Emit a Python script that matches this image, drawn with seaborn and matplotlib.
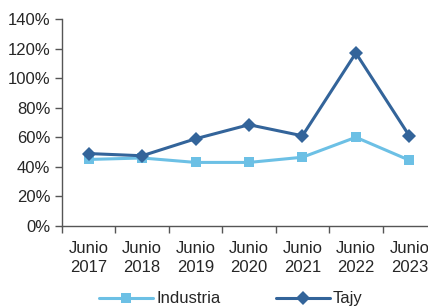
import matplotlib
matplotlib.use("Agg")
import matplotlib.pyplot as plt
import numpy as np
import pandas as pd
import seaborn as sns

years = ["Junio\n2017", "Junio\n2018", "Junio\n2019", "Junio\n2020",
         "Junio\n2021", "Junio\n2022", "Junio\n2023"]
industria = [45, 46, 43, 43, 46.5, 60, 44.5]
tajy = [49, 47.5, 59, 68.5, 61, 117, 61]

sns.set_style("white")
plt.rcParams["font.family"] = ["Liberation Sans Narrow", "Liberation Sans", "DejaVu Sans"]

df = pd.DataFrame({
    "pos": list(range(len(years))) * 2,
    "valor": industria + tajy,
    "serie": ["Industria"] * len(years) + ["Tajy"] * len(years),
})

fig = plt.figure(figsize=(4.28, 3.08), dpi=100)
ax = fig.add_axes([62 / 428, 82 / 308, 374 / 428, 207 / 308])

sns.lineplot(data=df, x="pos", y="valor", hue="serie", style="serie",
             palette={"Industria": "#6CC0E5", "Tajy": "#33649A"},
             markers={"Industria": "s", "Tajy": "D"}, dashes=False,
             markersize=7, linewidth=2.2, markeredgewidth=0, ax=ax, legend=True)

ax.set_xlim(-0.5, len(years) - 0.5)
ax.set_ylim(0, 140)
ax.set_yticks(np.arange(0, 141, 20))
ax.set_yticklabels([f"{v}%" for v in range(0, 141, 20)])
ax.set_xticks(np.arange(-0.5, len(years) - 0.5, 1))
ax.set_xticklabels([])
ax.set_xticks(np.arange(len(years)), labels=years, minor=True)
for t in ax.get_xticklabels(minor=True):
    t.set_linespacing(1.3)
ax.tick_params(axis="x", which="major", length=5, direction="out", color="#555555", width=1)
ax.tick_params(axis="x", which="minor", length=0, pad=11, labelsize=12)
ax.tick_params(axis="y", length=5, direction="out", color="#555555", width=1, labelsize=12)
ax.xaxis.set_ticks_position("bottom")
ax.yaxis.set_ticks_position("left")
ax.set_xlabel("")
ax.set_ylabel("")
for s in ["top", "right"]:
    ax.spines[s].set_visible(False)
for s in ["left", "bottom"]:
    ax.spines[s].set_color("#555555")
    ax.spines[s].set_linewidth(1)

handles, labels = ax.get_legend_handles_labels()
ax.legend(handles, labels, loc="lower center", bbox_to_anchor=(231 / 428, -0.022),
          bbox_transform=fig.transFigure, ncol=2, frameon=False, fontsize=12,
          handlelength=3.2, columnspacing=3.35, borderaxespad=0.1, handletextpad=0.2)

fig.savefig("out.png", dpi=100)
